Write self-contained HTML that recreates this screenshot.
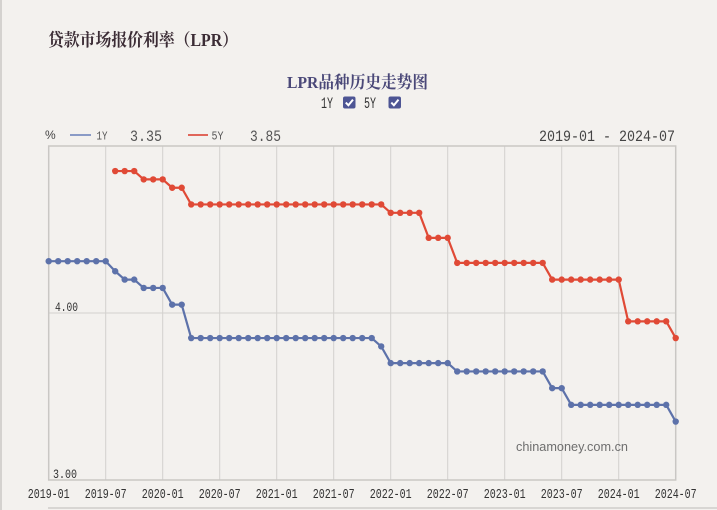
<!DOCTYPE html>
<html>
<head>
<meta charset="utf-8">
<style>
  html,body{margin:0;padding:0;background:#f3f1ee;}
  svg{display:block;}
</style>
</head>
<body>
<svg width="717" height="510" viewBox="0 0 717 510" xmlns="http://www.w3.org/2000/svg">
  <defs>
    <marker id="mb" markerWidth="8" markerHeight="8" refX="4" refY="4" markerUnits="userSpaceOnUse">
      <circle cx="4" cy="4" r="3.2" fill="#5d72aa"/>
    </marker>
    <marker id="mr" markerWidth="8" markerHeight="8" refX="4" refY="4" markerUnits="userSpaceOnUse">
      <circle cx="4" cy="4" r="3.2" fill="#e04a36"/>
    </marker>
  </defs>
  <rect x="0" y="0" width="717" height="510" fill="#f3f1ee"/>
  <line x1="1" y1="0" x2="1" y2="510" stroke="#d4d2cf" stroke-width="2"/>
  <line x1="48" y1="508" x2="717" y2="508" stroke="#cfcdca" stroke-width="1.5"/>

  <text x="48" y="46" font-family="'Liberation Serif','Noto Serif CJK SC',serif" font-weight="bold" font-size="17.5" fill="#3b2c35" textLength="190" lengthAdjust="spacingAndGlyphs">贷款市场报价利率（LPR）</text>

  <text x="287" y="88" font-family="'Liberation Serif','Noto Serif CJK SC',serif" font-weight="bold" font-size="17" fill="#4a4878" textLength="141" lengthAdjust="spacingAndGlyphs">LPR品种历史走势图</text>

  <text x="321" y="108" font-family="'Liberation Mono','Noto Serif CJK SC',monospace" font-size="16" fill="#333" textLength="12" lengthAdjust="spacingAndGlyphs">1Y</text>
  <rect x="343" y="96.5" width="12.5" height="12" rx="2" fill="#4d5594"/>
  <path d="M345.8 102.6 L348.4 105.3 L353 99.6" stroke="#fff" stroke-width="2" fill="none"/>
  <text x="364" y="108" font-family="'Liberation Mono','Noto Serif CJK SC',monospace" font-size="16" fill="#333" textLength="12" lengthAdjust="spacingAndGlyphs">5Y</text>
  <rect x="388.5" y="96.5" width="12.5" height="12" rx="2" fill="#4d5594"/>
  <path d="M391.3 102.6 L393.9 105.3 L398.5 99.6" stroke="#fff" stroke-width="2" fill="none"/>

  <text x="45" y="139" font-family="'Liberation Sans',sans-serif" font-size="12" fill="#444">%</text>
  <line x1="70" y1="135" x2="91" y2="135" stroke="#8a9bc6" stroke-width="2"/>
  <text x="96.5" y="139.5" font-family="'Liberation Mono',monospace" font-size="12" fill="#555" textLength="11" lengthAdjust="spacingAndGlyphs">1Y</text>
  <text x="130" y="141" font-family="'Liberation Mono',monospace" font-size="16" fill="#555" textLength="32" lengthAdjust="spacingAndGlyphs">3.35</text>
  <line x1="188" y1="135" x2="208" y2="135" stroke="#e0665a" stroke-width="2"/>
  <text x="211.5" y="139.5" font-family="'Liberation Mono',monospace" font-size="12" fill="#555" textLength="12" lengthAdjust="spacingAndGlyphs">5Y</text>
  <text x="250" y="141" font-family="'Liberation Mono',monospace" font-size="16" fill="#555" textLength="31" lengthAdjust="spacingAndGlyphs">3.85</text>
  <text x="539" y="141" font-family="'Liberation Mono',monospace" font-size="16" fill="#444" textLength="136" lengthAdjust="spacingAndGlyphs">2019-01 - 2024-07</text>

  <g stroke="#d3d1ce" stroke-width="1">
    <line x1="105.7" y1="146" x2="105.7" y2="480"/>
    <line x1="162.7" y1="146" x2="162.7" y2="480"/>
    <line x1="219.7" y1="146" x2="219.7" y2="480"/>
    <line x1="276.7" y1="146" x2="276.7" y2="480"/>
    <line x1="333.7" y1="146" x2="333.7" y2="480"/>
    <line x1="390.7" y1="146" x2="390.7" y2="480"/>
    <line x1="447.7" y1="146" x2="447.7" y2="480"/>
    <line x1="504.7" y1="146" x2="504.7" y2="480"/>
    <line x1="561.7" y1="146" x2="561.7" y2="480"/>
    <line x1="618.7" y1="146" x2="618.7" y2="480"/>
    <line x1="48.7" y1="313" x2="675.7" y2="313"/>
  </g>
  <rect x="48.7" y="146" width="627" height="334" fill="none" stroke="#c9c7c4" stroke-width="1.5"/>

  <text x="55" y="311" font-family="'Liberation Mono',monospace" font-size="13" fill="#333" textLength="23" lengthAdjust="spacingAndGlyphs">4.00</text>
  <text x="53" y="478" font-family="'Liberation Mono',monospace" font-size="13" fill="#333" textLength="24" lengthAdjust="spacingAndGlyphs">3.00</text>

  <text x="516" y="451" font-family="'Liberation Sans',sans-serif" font-size="13" fill="#6e6e6e" textLength="112" lengthAdjust="spacingAndGlyphs">chinamoney.com.cn</text>

  <g font-family="'Liberation Mono',monospace" font-size="13.5" fill="#333" text-anchor="middle">
    <text x="48.7" y="498" textLength="42" lengthAdjust="spacingAndGlyphs">2019-01</text>
    <text x="105.7" y="498" textLength="42" lengthAdjust="spacingAndGlyphs">2019-07</text>
    <text x="162.7" y="498" textLength="42" lengthAdjust="spacingAndGlyphs">2020-01</text>
    <text x="219.7" y="498" textLength="42" lengthAdjust="spacingAndGlyphs">2020-07</text>
    <text x="276.7" y="498" textLength="42" lengthAdjust="spacingAndGlyphs">2021-01</text>
    <text x="333.7" y="498" textLength="42" lengthAdjust="spacingAndGlyphs">2021-07</text>
    <text x="390.7" y="498" textLength="42" lengthAdjust="spacingAndGlyphs">2022-01</text>
    <text x="447.7" y="498" textLength="42" lengthAdjust="spacingAndGlyphs">2022-07</text>
    <text x="504.7" y="498" textLength="42" lengthAdjust="spacingAndGlyphs">2023-01</text>
    <text x="561.7" y="498" textLength="42" lengthAdjust="spacingAndGlyphs">2023-07</text>
    <text x="618.7" y="498" textLength="42" lengthAdjust="spacingAndGlyphs">2024-01</text>
    <text x="675.7" y="498" textLength="42" lengthAdjust="spacingAndGlyphs">2024-07</text>
  </g>

  <polyline fill="none" stroke="#e04a36" stroke-width="2.2" stroke-linejoin="round"
    marker-start="url(#mr)" marker-mid="url(#mr)" marker-end="url(#mr)"
    points="115.2,171.05 124.7,171.05 134.2,171.05 143.7,179.4 153.2,179.4 162.7,179.4 172.2,187.75 181.7,187.75 191.2,204.45 200.7,204.45 210.2,204.45 219.7,204.45 229.2,204.45 238.7,204.45 248.2,204.45 257.7,204.45 267.2,204.45 276.7,204.45 286.2,204.45 295.7,204.45 305.2,204.45 314.7,204.45 324.2,204.45 333.7,204.45 343.2,204.45 352.7,204.45 362.2,204.45 371.7,204.45 381.2,204.45 390.7,212.8 400.2,212.8 409.7,212.8 419.2,212.8 428.7,237.85 438.2,237.85 447.7,237.85 457.2,262.9 466.7,262.9 476.2,262.9 485.7,262.9 495.2,262.9 504.7,262.9 514.2,262.9 523.7,262.9 533.2,262.9 542.7,262.9 552.2,279.6 561.7,279.6 571.2,279.6 580.7,279.6 590.2,279.6 599.7,279.6 609.2,279.6 618.7,279.6 628.2,321.35 637.7,321.35 647.2,321.35 656.7,321.35 666.2,321.35 675.7,338.05"/>

  <polyline fill="none" stroke="#5d72aa" stroke-width="2.2" stroke-linejoin="round"
    marker-start="url(#mb)" marker-mid="url(#mb)" marker-end="url(#mb)"
    points="48.7,261.2 58.2,261.2 67.7,261.2 77.2,261.2 86.7,261.2 96.2,261.2 105.7,261.2 115.2,271.25 124.7,279.6 134.2,279.6 143.7,287.95 153.2,287.95 162.7,287.95 172.2,304.65 181.7,304.65 191.2,338.05 200.7,338.05 210.2,338.05 219.7,338.05 229.2,338.05 238.7,338.05 248.2,338.05 257.7,338.05 267.2,338.05 276.7,338.05 286.2,338.05 295.7,338.05 305.2,338.05 314.7,338.05 324.2,338.05 333.7,338.05 343.2,338.05 352.7,338.05 362.2,338.05 371.7,338.05 381.2,346.4 390.7,363.1 400.2,363.1 409.7,363.1 419.2,363.1 428.7,363.1 438.2,363.1 447.7,363.1 457.2,371.45 466.7,371.45 476.2,371.45 485.7,371.45 495.2,371.45 504.7,371.45 514.2,371.45 523.7,371.45 533.2,371.45 542.7,371.45 552.2,388.15 561.7,388.15 571.2,404.85 580.7,404.85 590.2,404.85 599.7,404.85 609.2,404.85 618.7,404.85 628.2,404.85 637.7,404.85 647.2,404.85 656.7,404.85 666.2,404.85 675.7,421.55"/>
</svg>
</body>
</html>
